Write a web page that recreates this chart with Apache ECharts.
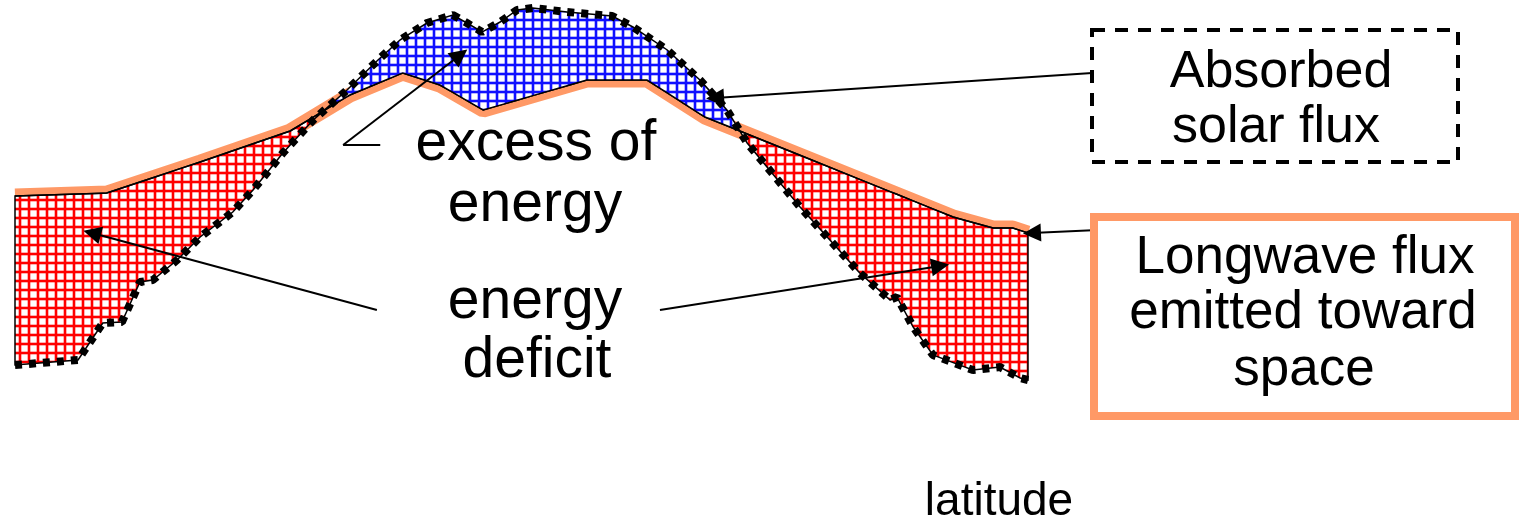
<!DOCTYPE html>
<html>
<head>
<meta charset="utf-8">
<title>Energy balance by latitude</title>
<script src="https://cdn.jsdelivr.net/npm/echarts@6/dist/echarts.min.js"></script>
<style>
    html, body { margin: 0; padding: 0; background: #fff; }
    #main { width: 1519px; height: 521px; }
</style>
</head>
<body>
<div id="main"></div>
<script>
// values: latitude (deg) / flux (W/m2)
var solarLat = [-90, -78.8, -74.4, -71.0, -67.8, -65.5, -61.2, -57.1, -51.3, -47.7, -42.4, -37.0, -31.0, -25.5, -21.6, -16.8, -12.2, -9.7, -7.0, -3.8, -0.8, 2.0, 8.1, 16.1, 19.8, 25.9, 31.7, 36.5, 40.1, 49.5, 60.1, 65.5, 66.7, 69.6, 73.1, 80.2, 85.0, 88.6, 90];
var solarFlux = [94.5, 98, 123.9, 124.6, 152.6, 154, 168, 184.1, 201.6, 217, 242.9, 266, 287, 308, 322, 333.9, 339.5, 333.9, 327.6, 334.6, 343, 344.4, 341.6, 338.8, 331.1, 315, 294, 273, 249.9, 205.1, 158.9, 140, 142.1, 121.1, 101.5, 91, 93.1, 85.4, 84];

var olrLat = [-90, -73.7, -57.1, -41.1, -30.5, -21.1, -14.5, -6.8, 11.6, 22.3, 32.6, 38.8, 76.7, 83.8, 87.3, 90];
var olrFlux = [212.8, 214.9, 236.6, 258.3, 283.5, 298.9, 290.5, 273, 294, 294, 268.1, 258.3, 198.1, 190.4, 190.4, 186.9];

// annotation arrows, [from, to] as [lat, flux]
var arrowLinks = [
    [[-31.7, 248.5], [-10.9, 311.5]],
    [[-25.7, 133], [-76.3, 186.9]],
    [[24.6, 133], [74.4, 163.8]],
    [[101.4, 298.9], [34.4, 281.4]],
    [[102.4, 189], [90.7, 186.9]]
];
var plainLinks = [
    [[-25.1, 248.5], [-31.7, 248.5]]
];

function zip(a, b) {
    var out = [];
    for (var i = 0; i < a.length; i++) out.push([a[i], b[i]]);
    return out;
}

function interp(lats, vals, x) {
    for (var i = 0; i < lats.length - 1; i++) {
        if (x >= lats[i] && x <= lats[i + 1]) {
            var t = (x - lats[i]) / (lats[i + 1] - lats[i]);
            return vals[i] + t * (vals[i + 1] - vals[i]);
        }
    }
    return vals[vals.length - 1];
}

// merged sequence [lat, solar, olr] with the crossing points added
function buildSeq() {
    var xs = solarLat.concat(olrLat).sort(function(a, b) { return a - b; });
    var seq = [];
    var prev = null;
    for (var i = 0; i < xs.length; i++) {
        if (i > 0 && xs[i] === xs[i - 1]) continue;
        var x = xs[i];
        var s = interp(solarLat, solarFlux, x);
        var o = interp(olrLat, olrFlux, x);
        if (prev) {
            var d0 = prev[1] - prev[2], d1 = s - o;
            if (d0 * d1 < 0) {
                var t = d0 / (d0 - d1);
                var vc = prev[2] + t * (o - prev[2]);
                seq.push([prev[0] + t * (x - prev[0]), vc, vc]);
            }
        }
        prev = [x, s, o];
        seq.push(prev);
    }
    return seq;
}
var seq = buildSeq();

function hatch(color) {
    var c = document.createElement('canvas');
    c.width = 9;
    c.height = 9;
    var ctx = c.getContext('2d');
    ctx.fillStyle = '#fff';
    ctx.fillRect(0, 0, 9, 9);
    ctx.fillStyle = color;
    ctx.globalAlpha = 0.3;
    ctx.fillRect(0, 0, 4, 9);
    ctx.fillRect(0, 0, 9, 4);
    ctx.globalAlpha = 1;
    ctx.fillRect(1, 0, 2, 9);
    ctx.fillRect(0, 1, 9, 2);
    return c;
}
var redHatch = hatch('#ff0000');
var blueHatch = hatch('#1010ff');

var myChart = echarts.init(document.getElementById('main'));

var textStyle = { fill: '#000', fontFamily: 'Liberation Sans', textAlign: 'center', textVerticalAlign: 'middle' };
function label(text, x, y, size) {
    return {
        type: 'text',
        style: echarts.util.extend({ text: text, x: x, y: y, fontSize: size }, textStyle),
        z: 20
    };
}

var option = {
    animation: false,
    grid: { left: 15, right: 491, top: 0, bottom: 21 },
    xAxis: { type: 'value', min: -90, max: 90, show: false },
    yAxis: { type: 'value', min: 0, max: 350, show: false },
    series: [
        {
            name: 'Longwave flux emitted toward space',
            type: 'line',
            data: zip(olrLat, olrFlux),
            showSymbol: false,
            lineStyle: { color: '#ff9966', width: 15 },
            z: 1
        },
        {
            type: 'custom',
            data: [[0, 0]],
            renderItem: function(params, api) {
                var blue = [], red = [], i;
                for (i = 0; i < seq.length; i++) {
                    blue.push(api.coord([seq[i][0], Math.max(seq[i][1], seq[i][2])]));
                    red.push(api.coord([seq[i][0], seq[i][2]]));
                }
                for (i = seq.length - 1; i >= 0; i--) {
                    blue.push(api.coord([seq[i][0], seq[i][2]]));
                    red.push(api.coord([seq[i][0], Math.min(seq[i][1], seq[i][2])]));
                }
                return {
                    type: 'group',
                    children: [
                        { type: 'polygon', shape: { points: red }, style: { fill: { image: redHatch, repeat: 'repeat' }, stroke: '#000', lineWidth: 1.5 } },
                        { type: 'polygon', shape: { points: blue }, style: { fill: { image: blueHatch, repeat: 'repeat' }, stroke: '#000', lineWidth: 1.5 } }
                    ]
                };
            },
            z: 2
        },
        {
            name: 'Absorbed solar flux',
            type: 'line',
            data: zip(solarLat, solarFlux),
            showSymbol: false,
            lineStyle: { color: '#000', width: 8, type: [7, 7], cap: 'butt' },
            z: 3
        },
        {
            type: 'lines',
            coordinateSystem: 'cartesian2d',
            clip: false,
            symbol: ['none', 'triangle'],
            symbolSize: 18,
            lineStyle: { color: '#000', width: 2, opacity: 1, curveness: 0 },
            data: arrowLinks.map(function(a) { return { coords: a }; }),
            z: 4
        },
        {
            type: 'lines',
            coordinateSystem: 'cartesian2d',
            clip: false,
            symbol: 'none',
            lineStyle: { color: '#000', width: 2, opacity: 1, curveness: 0 },
            data: plainLinks.map(function(a) { return { coords: a }; }),
            z: 4
        }
    ],
    graphic: [
        label('excess of', 536, 144, 57),
        label('energy', 535, 205, 57),
        label('energy', 535, 302, 57),
        label('deficit', 537, 361, 57),
        label('latitude', 999, 502, 46),
        {
            type: 'rect',
            shape: { x: 1092, y: 30, width: 366, height: 132 },
            style: { fill: 'none', stroke: '#000', lineWidth: 4, lineDash: [13, 10] },
            z: 20
        },
        label('Absorbed', 1281, 73, 52),
        label('solar flux', 1276, 128, 52),
        {
            type: 'rect',
            shape: { x: 1094, y: 217, width: 421, height: 199 },
            style: { fill: 'none', stroke: '#ff9966', lineWidth: 8 },
            z: 20
        },
        label('Longwave flux', 1305, 258, 53),
        label('emitted toward', 1303, 313, 53),
        label('space', 1304, 370, 53)
    ]
};

myChart.setOption(option);
</script>
</body>
</html>
